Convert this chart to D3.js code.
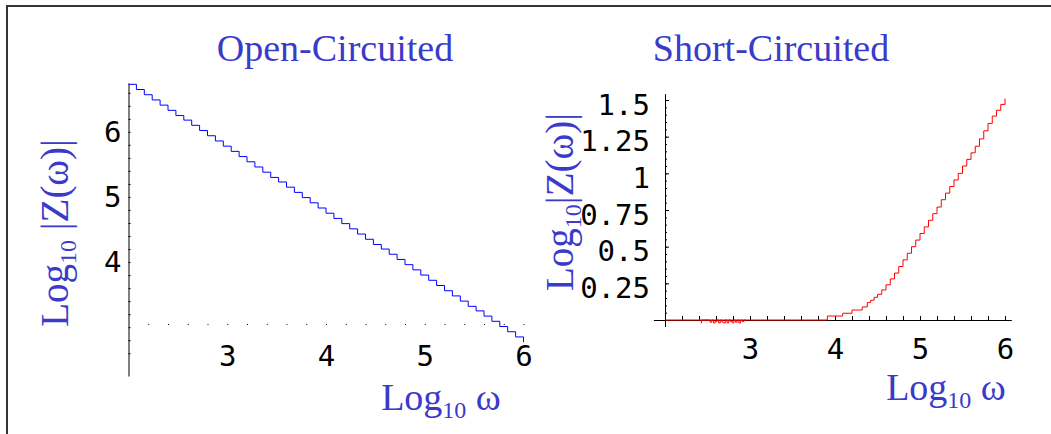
<!DOCTYPE html>
<html>
<head>
<meta charset="utf-8">
<script src="https://cdnjs.cloudflare.com/ajax/libs/d3/7.8.5/d3.min.js"></script>
<style>
	body { margin: 0; background: #fff; }
	svg { display: block; }
	.num { font-family: "DejaVu Sans Mono", monospace; font-size: 29px; fill: #000; }
	.blue { font-family: "Liberation Serif", "Times New Roman", serif; fill: #3a3acb; }
</style>
</head>
<body>
<div id="wrapper"></div>
<script>

// open-circuited response, log10 omega -> log10 |Z|
var openX = [2.00, 2.08, 2.16, 2.24, 2.32, 2.40, 2.48, 2.56, 2.64, 2.72,
	2.80, 2.88, 2.96, 3.04, 3.12, 3.20, 3.28, 3.36, 3.44, 3.52,
	3.60, 3.68, 3.76, 3.84, 3.92, 4.00, 4.08, 4.16, 4.24, 4.32,
	4.40, 4.48, 4.56, 4.64, 4.72, 4.80, 4.88, 4.96, 5.04, 5.12,
	5.20, 5.28, 5.36, 5.44, 5.52, 5.60, 5.68, 5.76, 5.84, 5.92, 6.00];
var openY = [6.73, 6.65, 6.57, 6.49, 6.41, 6.33, 6.25, 6.18, 6.10, 6.02,
	5.94, 5.86, 5.78, 5.70, 5.62, 5.54, 5.46, 5.38, 5.30, 5.23,
	5.15, 5.07, 4.99, 4.91, 4.83, 4.75, 4.67, 4.59, 4.51, 4.43,
	4.35, 4.27, 4.20, 4.12, 4.04, 3.96, 3.88, 3.80, 3.72, 3.64,
	3.56, 3.48, 3.40, 3.32, 3.25, 3.17, 3.09, 3.01, 2.93, 2.85, 2.77];

// short-circuited response
var shortX = [2.0, 3.91, 4.09, 4.2, 4.32, 4.38, 4.42, 4.46, 4.5, 4.55,
	4.6, 4.65, 4.7, 4.75, 4.8, 4.85, 4.9, 4.95, 5.0, 5.05,
	5.1, 5.15, 5.2, 5.25, 5.3, 5.35, 5.4, 5.45, 5.5, 5.55,
	5.6, 5.65, 5.7, 5.75, 5.8, 5.85, 5.9, 5.95, 6.0];
var shortY = [0, 0.027, 0.046, 0.068, 0.089, 0.12, 0.135, 0.155, 0.175, 0.205,
	0.24, 0.28, 0.32, 0.365, 0.41, 0.455, 0.5, 0.545, 0.59, 0.635,
	0.68, 0.725, 0.77, 0.82, 0.865, 0.91, 0.955, 1.0, 1.05, 1.095,
	1.14, 1.185, 1.235, 1.29, 1.34, 1.39, 1.43, 1.47, 1.51];

// numerical jitter near zero in the short-circuited curve
var noiseX = [2.42, 2.43, 2.51, 2.53, 2.55, 2.57, 2.59, 2.61, 2.63, 2.65, 2.67, 2.69,
	2.71, 2.73, 2.75, 2.77, 2.79, 2.81, 2.83, 2.85, 2.87, 2.89, 2.91, 2.93, 2.95];
var noiseY = [-0.02, 0, 0, -0.015, 0, -0.02, -0.01, 0, -0.02, 0, -0.015, -0.02,
	0, -0.02, 0, -0.01, -0.02, 0, -0.015, 0, -0.02, 0, -0.01, 0, 0];

var xTickLabels = [3, 4, 5, 6];
var openYTickLabels = [4, 5, 6];
var shortYTickLabels = [0.25, 0.5, 0.75, 1, 1.25, 1.5];

var width = 1051, height = 434;
var plain = function(d) { return String(d); };

var svg = d3.select("#wrapper").append("svg")
	.attr("width", width)
	.attr("height", height);

// frame
svg.append("path")
	.attr("d", "M7," + height + "V6H" + width)
	.attr("fill", "none")
	.attr("stroke", "#333")
	.attr("stroke-width", 2);

function blueLabel(g, x, y, rotate, main, sub, rest) {
	var t = g.append("text")
		.attr("class", "blue")
		.attr("text-anchor", "middle")
		.attr("transform", "translate(" + x + "," + y + ")" + (rotate ? " rotate(-90)" : ""))
		.style("font-size", "38px");
	t.append("tspan").text(main);
	t.append("tspan").attr("dy", 8).style("font-size", "24px").text(sub);
	t.append("tspan").attr("dy", -8).text(rest);
	return t;
}

function styleNumbers(g) {
	g.attr("font-size", null).attr("font-family", null);
	g.selectAll("text").attr("class", "num");
	g.select(".domain").remove();
}

function zip(xs, ys) {
	return xs.map(function(x, i) { return [x, ys[i]]; });
}

// ---------- Open-Circuited ----------
var xL = d3.scaleLinear().domain([2, 6]).range([128.5, 523.5]);
var yL = d3.scaleLinear().domain([2.25, 6.75]).range([376, 83]);
var openAxisY = 3.05;

svg.append("text")
	.attr("class", "blue")
	.attr("x", 335).attr("y", 61)
	.attr("text-anchor", "middle")
	.style("font-size", "38px")
	.text("Open-Circuited");

// y axis line + minor ticks
svg.append("g")
	.attr("transform", "translate(" + xL(2) + ",0)")
	.call(d3.axisRight(yL).tickValues(d3.range(2.6, 6.7, 0.2)).tickSize(2).tickSizeOuter(0).tickFormat(""));

svg.append("g")
	.attr("transform", "translate(" + xL(2) + ",0)")
	.call(d3.axisLeft(yL).tickValues(openYTickLabels).tickSize(0).tickPadding(7).tickFormat(plain))
	.call(styleNumbers);

// dotted x axis
svg.append("g")
	.attr("transform", "translate(0," + yL(openAxisY) + ")")
	.call(d3.axisBottom(xL).tickValues(d3.range(2.2, 6.05, 0.2)).tickSize(1).tickFormat(""))
	.call(function(g) { g.select(".domain").remove(); });

svg.append("g")
	.attr("transform", "translate(0," + yL(openAxisY) + ")")
	.call(d3.axisBottom(xL).tickValues(xTickLabels).tickSize(0).tickPadding(22).tickFormat(plain))
	.call(styleNumbers);

svg.append("path")
	.datum(zip(openX, openY))
	.attr("fill", "none")
	.attr("stroke", "#0000ff")
	.attr("stroke-width", 1)
	.attr("d", d3.line()
		.x(function(d) { return xL(d[0]); })
		.y(function(d) { return yL(d[1]); })
		.curve(d3.curveStepAfter));

blueLabel(svg, 441, 410, false, "Log", "10", " \u03c9");
blueLabel(svg, 68, 233, true, "Log", "10", " |Z(\u03c9)|").style("font-size", "39px");

// ---------- Short-Circuited ----------
var xR = d3.scaleLinear().domain([2, 6]).range([665, 1005]);
var yR = d3.scaleLinear().domain([0, 1.5]).range([320, 100]);

svg.append("text")
	.attr("class", "blue")
	.attr("x", 771).attr("y", 61)
	.attr("text-anchor", "middle")
	.style("font-size", "38px")
	.text("Short-Circuited");

// axis lines
svg.append("line")
	.attr("x1", xR(2) + 0.5).attr("x2", xR(2) + 0.5)
	.attr("y1", yR(1.54)).attr("y2", yR(-0.048))
	.attr("stroke", "#000");
svg.append("line")
	.attr("x1", xR(1.87)).attr("x2", xR(6.08))
	.attr("y1", yR(0) + 0.5).attr("y2", yR(0) + 0.5)
	.attr("stroke", "#000");

// y ticks
svg.append("g")
	.attr("transform", "translate(" + xR(2) + ",0)")
	.call(d3.axisRight(yR).tickValues(d3.range(0.05, 1.52, 0.05)).tickSize(2).tickFormat(""))
	.call(function(g) { g.select(".domain").remove(); });
svg.append("g")
	.attr("transform", "translate(" + xR(2) + ",0)")
	.call(d3.axisRight(yR).tickValues(shortYTickLabels).tickSize(4).tickFormat(""))
	.call(function(g) { g.select(".domain").remove(); });

svg.append("g")
	.attr("transform", "translate(" + xR(2) + ",0)")
	.call(d3.axisLeft(yR).tickValues(shortYTickLabels).tickSize(0).tickPadding(15).tickFormat(plain))
	.call(styleNumbers)
	.call(function(g) { g.selectAll("text").attr("dy", 14); });

// x ticks
svg.append("g")
	.attr("transform", "translate(0," + yR(0) + ")")
	.call(d3.axisTop(xR).tickValues(d3.range(2.2, 6.05, 0.2)).tickSize(4).tickFormat(""))
	.call(function(g) { g.select(".domain").remove(); });

svg.append("g")
	.attr("transform", "translate(0," + yR(0) + ")")
	.call(d3.axisBottom(xR).tickValues(xTickLabels).tickSize(0).tickPadding(18).tickFormat(plain))
	.call(styleNumbers);

var lineR = d3.line()
	.x(function(d) { return xR(d[0]); })
	.y(function(d) { return yR(d[1]); })
	.curve(d3.curveStepAfter);

svg.append("path")
	.datum(zip(noiseX, noiseY))
	.attr("fill", "none")
	.attr("stroke", "#ff0000")
	.attr("stroke-width", 1)
	.attr("d", lineR);

svg.append("path")
	.datum(zip(shortX, shortY))
	.attr("fill", "none")
	.attr("stroke", "#ff0000")
	.attr("stroke-width", 1)
	.attr("d", lineR);

blueLabel(svg, 946, 400, false, "Log", "10", " \u03c9");
blueLabel(svg, 573, 202, true, "Log", "10", "|Z(\u03c9)|").style("font-size", "39px");

</script>
</body>
</html>
